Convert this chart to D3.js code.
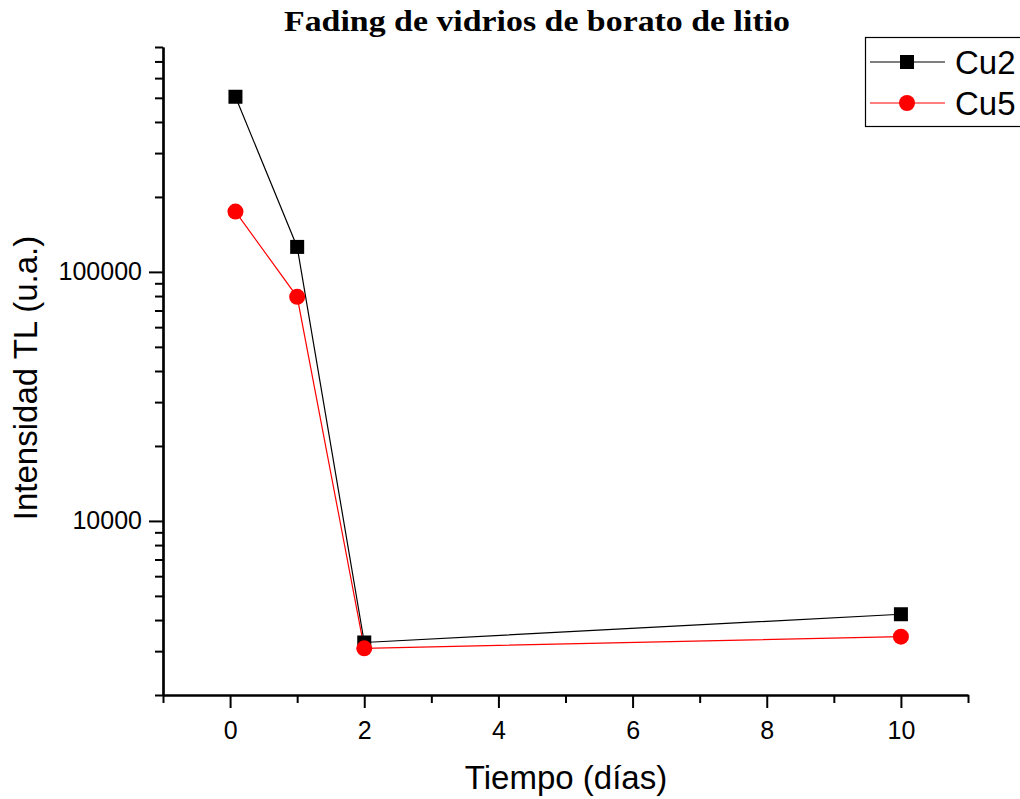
<!DOCTYPE html>
<html><head><meta charset="utf-8">
<script src="https://cdn.jsdelivr.net/npm/d3@7"></script>
<style>body{margin:0;background:#fff}svg{display:block}</style>
</head><body><svg id="c" width="1020" height="799"></svg>
<script>
const days = [0.08, 1, 2, 10];
const cu2 = [505000, 126000, 3250, 4220];
const cu5 = [174600, 79400, 3080, 3430];
const seriesNames = ["Cu2", "Cu5"];
const xTicks = [0, 2, 4, 6, 8, 10];
const yTicks = [10000, 100000];
const title = "Fading de vidrios de borato de litio";
const xLabel = "Tiempo (días)";
const yLabel = "Intensidad TL (u.a.)";

const svg = d3.select("#c");
const L = 163, R = 968, T = 47, B = 695;
const x = d3.scaleLinear().domain([-1, 11]).range([L, R]);
const y = d3.scaleLog().domain([2000, 800000]).range([B, T]);
const SANS = "Liberation Sans, Arial, sans-serif";

// title
svg.append("text").attr("x", 537).attr("y", 31).attr("text-anchor", "middle")
  .attr("font-family", "Liberation Serif, Times New Roman, serif").attr("font-weight", "bold")
  .attr("font-size", 29).attr("textLength", 506).attr("lengthAdjust", "spacingAndGlyphs").text(title);

const minorX = d3.range(-1, 12, 1).filter(v => !xTicks.includes(v));
const gx = svg.append("g").attr("transform", `translate(0,${B})`);
gx.call(d3.axisBottom(x).tickValues(xTicks).tickSize(13).tickPadding(13).tickSizeOuter(0));
gx.append("g").call(d3.axisBottom(x).tickValues(minorX).tickSize(8).tickFormat("").tickSizeOuter(0));
gx.selectAll(".domain").attr("stroke-width", 2.2).attr("stroke", "#000");
gx.selectAll(".tick line").attr("stroke-width", 2).attr("stroke", "#000");
gx.selectAll(".tick text").attr("font-family", SANS).attr("font-size", 25).attr("fill", "#000");

const minorY = [];
[1000, 10000, 100000].forEach(d => { for (let k = 2; k <= 9; k++) { const v = d * k; if (v >= 2000 && v <= 800000 && !yTicks.includes(v)) minorY.push(v); } });
const gy = svg.append("g").attr("transform", `translate(${L},0)`);
gy.call(d3.axisLeft(y).tickValues(yTicks).tickSize(14).tickPadding(7).tickFormat(d3.format("d")).tickSizeOuter(0));
gy.append("g").call(d3.axisLeft(y).tickValues(minorY).tickSize(8).tickFormat("").tickSizeOuter(0));
gy.selectAll(".domain").attr("stroke-width", 2.2).attr("stroke", "#000");
gy.selectAll(".tick line").attr("stroke-width", 2).attr("stroke", "#000");
gy.selectAll(".tick text").attr("font-family", SANS).attr("font-size", 25).attr("fill", "#000");

// axis labels
svg.append("text").attr("x", 566).attr("y", 789).attr("text-anchor", "middle")
  .attr("font-family", SANS).attr("font-size", 33).text(xLabel);
svg.append("text").attr("transform", `translate(37,378) rotate(-90)`).attr("text-anchor", "middle")
  .attr("font-family", SANS).attr("font-size", 33).text(yLabel);

const line = d3.line().x((d, i) => x(days[i])).y(d => y(d));
const series = [{ name: seriesNames[0], vals: cu2, color: "#000", shape: "square" },
                { name: seriesNames[1], vals: cu5, color: "#ff0000", shape: "circle" }];
function marker(g, s, cx, cy) {
  if (s.shape === "square") g.append("rect").attr("x", cx - 7).attr("y", cy - 7).attr("width", 14).attr("height", 14).attr("fill", s.color);
  else g.append("circle").attr("cx", cx).attr("cy", cy).attr("r", 8).attr("fill", s.color);
}
series.forEach(s => {
  svg.append("path").attr("d", line(s.vals)).attr("fill", "none").attr("stroke", s.color).attr("stroke-width", 1.2);
});
series.forEach(s => {
  const g = svg.append("g");
  s.vals.forEach((v, i) => marker(g, s, x(days[i]), y(v)));
});

// legend
const lg = svg.append("g");
lg.append("rect").attr("x", 865.5).attr("y", 37.5).attr("width", 160).attr("height", 89).attr("fill", "#fff").attr("stroke", "#000").attr("stroke-width", 1.2);
series.forEach((s, i) => {
  const cy = 62 + i * 41;
  lg.append("line").attr("x1", 870).attr("x2", 945).attr("y1", cy).attr("y2", cy).attr("stroke", s.color).attr("stroke-width", 1.2);
  marker(lg, s, 907, cy);
  lg.append("text").attr("x", 955).attr("y", cy + 12).attr("font-family", SANS).attr("font-size", 33).text(s.name);
});
</script></body></html>
